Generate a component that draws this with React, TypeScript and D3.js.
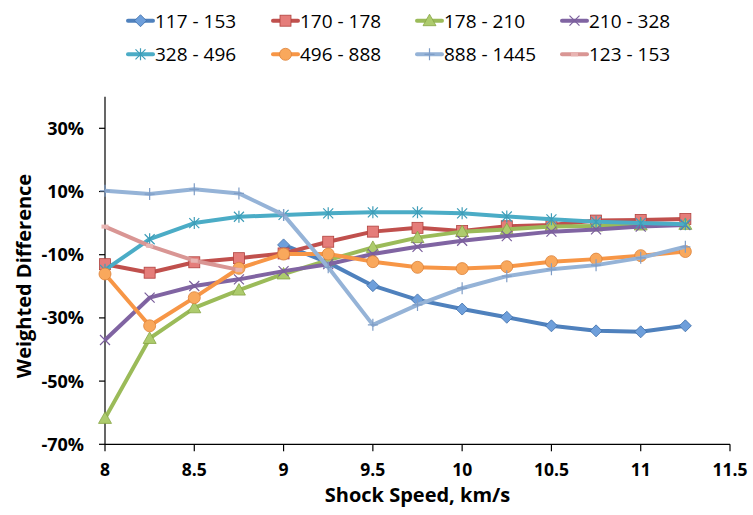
import React from 'react';
import * as d3 from 'd3';

const speeds = [8, 8.25, 8.5, 8.75, 9, 9.25, 9.5, 9.75, 10, 10.25, 10.5, 10.75, 11, 11.25];

const s117 = [null, null, null, null, -6.9, -12.5, -19.8, -24.3, -27.2, -29.8, -32.5, -34.1, -34.4, -32.5];
const s170 = [-13, -15.7, -12.4, -11.1, -9.6, -5.9, -2.7, -1.5, -2.5, -1.0, -0.6, 0.8, 1.0, 1.3];
const s178 = [-61.8, -36.5, -26.8, -21.2, -16.1, -11.7, -7.7, -4.6, -2.7, -2.0, -1.1, -0.9, -0.6, -0.4];
const s210 = [-37, -23.6, -19.9, -17.8, -15.2, -13, -9.8, -7.5, -5.6, -4.1, -2.7, -2.0, -1.1, -0.6];
const s328 = [-14.8, -5.1, 0, 2.0, 2.6, 3.1, 3.4, 3.4, 3.1, 2.1, 1.2, 0.4, 0, -0.4];
const s496 = [-16.1, -32.5, -23.6, -14.3, -9.8, -9.8, -12.2, -14, -14.4, -13.8, -12.2, -11.4, -10.3, -9];
const s888 = [10.2, 9.2, 10.7, 9.4, 2.6, -14, -32.2, -25.9, -20.6, -16.8, -14.6, -13.3, -11, -7.5];
const s123 = [-1.1, -7.2, -11.9, -14.8, null, null, null, null, null, null, null, null, null, null];

const seriesNames = ['117 - 153', '170 - 178', '178 - 210', '210 - 328', '328 - 496', '496 - 888', '888 - 1445', '123 - 153'];
const seriesValues = [s117, s170, s178, s210, s328, s496, s888, s123];

const yTicks = [-70, -50, -30, -10, 10, 30];
const xTicks = [8, 8.5, 9, 9.5, 10, 10.5, 11, 11.5];

type MarkerKind = 'diamond' | 'square' | 'triangle' | 'cross' | 'star' | 'circle' | 'plus' | 'dash';

const styles: { line: string; fill: string; edge: string; marker: MarkerKind }[] = [
  { line: '#4F81BD', fill: '#6E9FDB', edge: '#3D6DA8', marker: 'diamond' },
  { line: '#C0504D', fill: '#E57D7A', edge: '#B0413E', marker: 'square' },
  { line: '#9BBB59', fill: '#ADCB6D', edge: '#86A544', marker: 'triangle' },
  { line: '#8064A2', fill: 'none', edge: '#7A5E9C', marker: 'cross' },
  { line: '#4BACC6', fill: 'none', edge: '#3E9DB8', marker: 'star' },
  { line: '#F79646', fill: '#F9A85C', edge: '#DC8139', marker: 'circle' },
  { line: '#95B3D7', fill: 'none', edge: '#7F9DC6', marker: 'plus' },
  { line: '#D99694', fill: '#E8B4B2', edge: '#D99694', marker: 'dash' },
];

const W = 753;
const H = 515;
const FONT = '"Open Sans", "DejaVu Sans", sans-serif';

const x = d3.scaleLinear().domain([8, 11.5]).range([105, 730]);
const y = d3.scaleLinear().domain([-70, 40]).range([444.3, 96.7]);

function Marker({ kind, cx, cy, fill, edge }: { kind: MarkerKind; cx: number; cy: number; fill: string; edge: string }) {
  switch (kind) {
    case 'diamond':
      return <path d={`M${cx},${cy - 6}L${cx + 6},${cy}L${cx},${cy + 6}L${cx - 6},${cy}Z`} fill={fill} stroke={edge} strokeWidth={0.8} />;
    case 'square':
      return <rect x={cx - 5.5} y={cy - 5.5} width={11} height={11} fill={fill} stroke={edge} strokeWidth={0.8} />;
    case 'triangle':
      return <path d={`M${cx},${cy - 6.5}L${cx + 6.5},${cy + 5}L${cx - 6.5},${cy + 5}Z`} fill={fill} stroke={edge} strokeWidth={0.8} />;
    case 'circle':
      return <circle cx={cx} cy={cy} r={6} fill={fill} stroke={edge} strokeWidth={0.8} />;
    case 'cross':
      return <path d={`M${cx - 5},${cy - 5}L${cx + 5},${cy + 5}M${cx - 5},${cy + 5}L${cx + 5},${cy - 5}`} stroke={edge} strokeWidth={1.2} />;
    case 'star':
      return (
        <path
          d={`M${cx - 5},${cy - 5}L${cx + 5},${cy + 5}M${cx - 5},${cy + 5}L${cx + 5},${cy - 5}M${cx},${cy - 6}L${cx},${cy + 6}`}
          stroke={edge}
          strokeWidth={1.2}
        />
      );
    case 'plus':
      return <path d={`M${cx - 5},${cy}L${cx + 5},${cy}M${cx},${cy - 6}L${cx},${cy + 6}`} stroke={edge} strokeWidth={1.2} />;
    case 'dash':
      return <rect x={cx - 3.5} y={cy - 2} width={7} height={4} fill={fill} />;
  }
}

export default function App() {
  const line = d3
    .line<number | null>()
    .defined(d => d !== null)
    .x((_, i) => x(speeds[i]))
    .y(d => y(d as number));

  const legendCols = [128, 273, 417, 562];
  const legendRows = [20.7, 54.3];

  return (
    <div style={{ position: 'absolute', left: 0, top: 0 }}>
      <svg width={W} height={H} style={{ display: 'block', background: '#fff' }} fontFamily={FONT}>
        {/* axes */}
        <line x1={105} x2={105} y1={y(40)} y2={y(-70)} stroke="#000" strokeWidth={1.2} />
        <line x1={105} x2={730} y1={y(-70)} y2={y(-70)} stroke="#000" strokeWidth={1.2} />
        {yTicks.map(t => (
          <g key={t}>
            <line x1={99} x2={105} y1={y(t)} y2={y(t)} stroke="#000" strokeWidth={1.2} />
            <text x={84} y={y(t)} dy="0.36em" textAnchor="end" fontSize={18} fontWeight="bold">
              {t}%
            </text>
          </g>
        ))}
        {xTicks.map(t => (
          <g key={t}>
            <line x1={x(t)} x2={x(t)} y1={y(-70)} y2={y(-70) + 7} stroke="#000" strokeWidth={1.2} />
            <text x={x(t)} y={476} textAnchor="middle" fontSize={17.5} fontWeight="bold">
              {t}
            </text>
          </g>
        ))}
        <text x={417.5} y={502} textAnchor="middle" fontSize={20} fontWeight="bold">
          Shock Speed, km/s
        </text>
        <text transform="translate(31,276) rotate(-90)" textAnchor="middle" fontSize={20} fontWeight="bold">
          Weighted Difference
        </text>

        {/* series */}
        {seriesValues.map((vals, si) => (
          <g key={seriesNames[si]}>
            <path d={line(vals) || ''} fill="none" stroke={styles[si].line} strokeWidth={4} strokeLinejoin="round" />
            {vals.map((v, i) =>
              v === null ? null : (
                <Marker key={i} kind={styles[si].marker} cx={x(speeds[i])} cy={y(v)} fill={styles[si].fill} edge={styles[si].edge} />
              )
            )}
          </g>
        ))}

        {/* legend */}
        {seriesNames.map((name, si) => {
          const lx = legendCols[si % 4];
          const ly = legendRows[Math.floor(si / 4)];
          return (
            <g key={name}>
              <line x1={lx} x2={lx + 25} y1={ly} y2={ly} stroke={styles[si].line} strokeWidth={4} strokeLinecap="round" />
              <Marker kind={styles[si].marker} cx={lx + 12.5} cy={ly} fill={styles[si].fill} edge={styles[si].edge} />
              <text x={lx + 27} y={ly} dy="0.36em" fontSize={19}>
                {name}
              </text>
            </g>
          );
        })}
      </svg>
    </div>
  );
}
